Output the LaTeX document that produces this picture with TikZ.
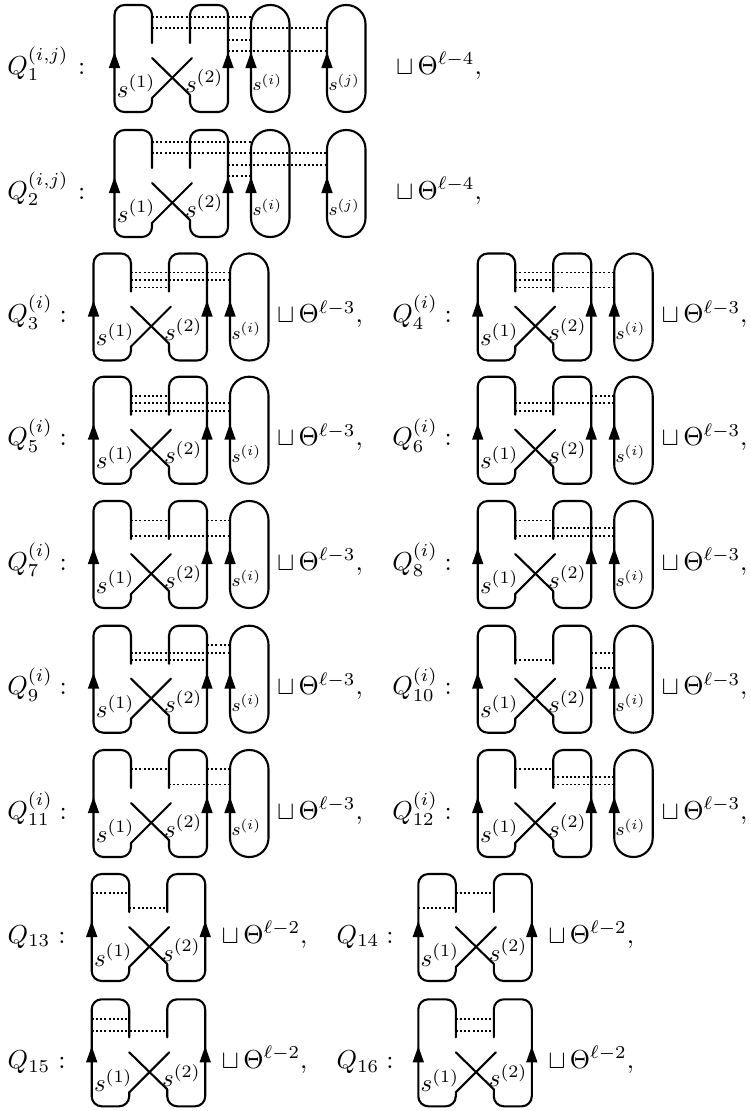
\documentclass[tikz,border=0pt]{standalone}
\tikzset{
  strand/.style={line width=2.1pt,line cap=round,line join=round},
  rnd/.style={strand,rounded corners=10pt},
  loopline/.style={strand,rounded corners=19pt},
  dotline/.style={line width=1.8pt,dash pattern=on 2pt off 2.2pt},
  arrowhead/.style={fill=black,draw=none},
  txt/.style={inner sep=0pt,outer sep=0pt,anchor=base west,scale=2.6},
  ctxt/.style={inner sep=0pt,outer sep=0pt,anchor=base,scale=2.6},
  stxt/.style={inner sep=0pt,outer sep=0pt,anchor=base west,scale=2.5},
  itxt/.style={inner sep=0pt,outer sep=0pt,anchor=base west,scale=2.3},
}
% arrowhead on a strand, #1 x, #2 top of the figure
\newcommand\arrhead[2]{\fill[arrowhead] (#1,#2+47) -- (#1+5.7,#2+63) -- (#1-5.7,#2+63) -- cycle;}
% the two-box figure with the crossing: #1 id, #2 left x, #3 top y
\newcommand\hfig[3]{%
  \coordinate (P) at (#2,#3);
  \coordinate (A) at (#2+37.5,#3);
  \coordinate (B) at (#2+75.5,#3);
  \coordinate (C) at (#2+113.5,#3);
  \draw[rnd] (#2+37.5,#3+38) -- (#2+37.5,#3) -- (#2,#3) -- (#2,#3+107) -- (#2+37.5,#3+107) -- (#2+37.5,#3+93);
  \draw[strand] (#2+37.5,#3+93) -- (#2+77.5,#3+53);
  \draw[strand] (#2+37.5,#3+53) -- (#2+75.5,#3+90);
  \draw[rnd] (#2+75.5,#3+38) -- (#2+75.5,#3) -- (#2+113.5,#3) -- (#2+113.5,#3+107) -- (#2+75.5,#3+107) -- (#2+75.5,#3+90);
  \arrhead{#2}{#3}
  \arrhead{#2+113.5}{#3}
  \node[stxt] (s1-#1) at (#2+2.3,#3+92) {$s^{(1)}$};
  \node[stxt] (s2-#1) at (#2+70.5,#3+87) {$s^{(2)}$};
}
% a closed loop: #1 node name, #2 left x, #3 top y, #4 index
\newcommand\loopfig[4]{%
  \draw[loopline] (#2,#3) rectangle (#2+38.5,#3+107);
  \arrhead{#2}{#3}
  \node[itxt] (#1) at (#2+1.5,#3+85.5) {\footnotesize$s^{(#4)}$};
}
% row labels: #1 id, #2 Q x, #3 Q text, #4 colon x, #5 top y, #6 cup x, #7 exponent
\newcommand\rowtext[7]{%
  \node[txt] (q-#1) at (#2,#5+69) {$#3$};
  \node[ctxt] (c-#1) at (#4,#5+69) {$:$};
  \node[txt] (t-#1) at (#6,#5+69) {$\sqcup\,\Theta^{\ell-#7},$};
}
\newcommand\dl[3]{\draw[dotline] ([yshift=-#3pt]#1) -- ([yshift=-#3pt]#2);}
% three-loop figure: #1 id, #2 left x, #3 top y
\newcommand\threefig[3]{%
  \hfig{#1}{#2}{#3}
  \coordinate (D) at (#2+136.5,#3);
  \loopfig{si-#1}{#2+136.5}{#3}{i}
}
\begin{document}
\begin{tikzpicture}[x=1pt,y=-1pt]
\useasboundingbox (0,0) rectangle (751,1111);
\fill[white] (0,0) rectangle (751,1111);

% Q1
\rowtext{1}{7.3}{Q_1^{(i,j)}}{81.7}{5}{396}{4}
\threefig{1}{114.5}{5}
\coordinate (E) at (327,5);
\loopfig{sj-1}{327}{5}{j}
\dl{A}{D}{12} \dl{A}{E}{23} \dl{C}{D}{35} \dl{C}{E}{46}

% Q2
\rowtext{2}{7.3}{Q_2^{(i,j)}}{81.7}{130}{396}{4}
\threefig{2}{114.5}{130}
\coordinate (E) at (327,130);
\loopfig{sj-2}{327}{130}{j}
\dl{A}{D}{12} \dl{A}{E}{23} \dl{C}{E}{35} \dl{C}{D}{46}

% Q3
\rowtext{3}{7.3}{Q_3^{(i)}}{63.3}{253.5}{277}{3}
\threefig{3}{93.5}{253.5}
\dl{A}{D}{19} \dl{A}{D}{26.5} \dl{A}{B}{34}

% Q4
\rowtext{4}{392.3}{Q_4^{(i)}}{448.3}{253.5}{661.7}{3}
\threefig{4}{477.7}{253.5}
\dl{A}{D}{19} \dl{A}{B}{26.5} \dl{A}{D}{34}

% Q5
\rowtext{5}{7.3}{Q_5^{(i)}}{63.3}{376.7}{277}{3}
\threefig{5}{93.5}{376.7}
\dl{A}{B}{19} \dl{A}{D}{26.5} \dl{A}{D}{34}

% Q6
\rowtext{6}{392.3}{Q_6^{(i)}}{448.3}{376.7}{661.7}{3}
\threefig{6}{477.7}{376.7}
\dl{C}{D}{19} \dl{A}{D}{26.5} \dl{A}{B}{34}

% Q7
\rowtext{7}{7.3}{Q_7^{(i)}}{63.3}{501}{277}{3}
\threefig{7}{93.5}{501}
\dl{A}{B}{19.5} \dl{C}{D}{19.5} \dl{A}{D}{35}

% Q8
\rowtext{8}{392.3}{Q_8^{(i)}}{448.3}{501}{661.7}{3}
\threefig{8}{477.7}{501}
\dl{A}{B}{19.5} \dl{B}{D}{27} \dl{A}{D}{35}

% Q9
\rowtext{9}{7.3}{Q_9^{(i)}}{63.3}{625.7}{277}{3}
\threefig{9}{93.5}{625.7}
\dl{C}{D}{19.5} \dl{A}{D}{27} \dl{A}{C}{34.5}

% Q10
\rowtext{10}{392.3}{Q_{10}^{(i)}}{448.3}{625.7}{661.7}{3}
\threefig{10}{477.7}{625.7}
\dl{C}{D}{27} \dl{A}{B}{34.5} \dl{C}{D}{42}

% Q11
\rowtext{11}{7.3}{Q_{11}^{(i)}}{63.3}{750}{277}{3}
\threefig{11}{93.5}{750}
\dl{A}{B}{19} \dl{C}{D}{19} \dl{B}{D}{34.5}

% Q12
\rowtext{12}{392.3}{Q_{12}^{(i)}}{448.3}{750}{661.7}{3}
\threefig{12}{477.7}{750}
\dl{A}{B}{19} \dl{B}{D}{27} \dl{B}{D}{34.5}

% Q13
\rowtext{13}{7.7}{Q_{13}}{62}{874}{221.7}{2}
\hfig{13}{91.7}{874}
\dl{P}{A}{19} \dl{A}{B}{34}

% Q14
\rowtext{14}{336.7}{Q_{14}}{390}{874}{548.3}{2}
\hfig{14}{418.3}{874}
\dl{A}{B}{19} \dl{P}{A}{34}

% Q15
\rowtext{15}{7.7}{Q_{15}}{62}{999.3}{221.7}{2}
\hfig{15}{91.7}{999.3}
\dl{P}{A}{20} \dl{P}{B}{32}

% Q16
\rowtext{16}{336.7}{Q_{16}}{390}{999.3}{548.3}{2}
\hfig{16}{418.3}{999.3}
\dl{A}{B}{20} \dl{A}{B}{32}
\end{tikzpicture}
\end{document}
